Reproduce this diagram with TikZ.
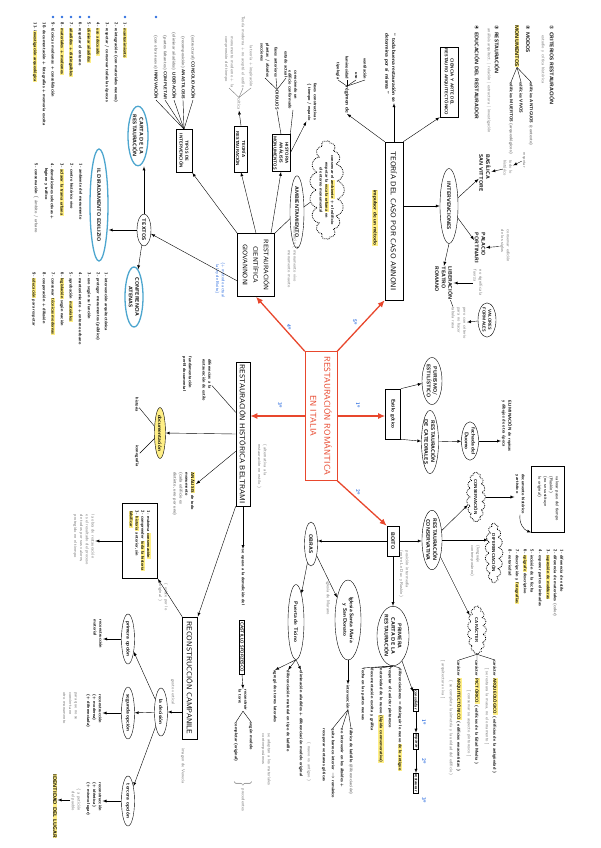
\documentclass[tikz,border=0pt]{standalone}
\usepackage{fontspec}
\newfontfamily\simbolos{DejaVu Sans}
\usepackage{xcolor}
\usepackage{tikz}
\usetikzlibrary{shapes,positioning,calc}
\usetikzlibrary{arrows.meta}
\tikzset{>=latex}
\definecolor{rojo}{HTML}{E8472D}
\definecolor{azul}{HTML}{2F6FE0}
\definecolor{celeste}{HTML}{4DA6CF}
\definecolor{amarillo}{HTML}{FFEF86}
\definecolor{gristxt}{HTML}{7A7A7A}
\newcommand{\res}[1]{{\setlength{\fboxsep}{0.4pt}\colorbox{amarillo}{#1}}}
\newcommand{\fchica}{\sffamily\fontsize{4.3}{5.8}\selectfont}
\newcommand{\fnegra}{\sffamily\bfseries\fontsize{4.3}{5.8}\selectfont}
\newcommand{\fmedia}{\sffamily\bfseries\fontsize{5.2}{6.6}\selectfont}
\newcommand{\fgrande}{\sffamily\fontsize{7.2}{10}\selectfont\addfontfeature{LetterSpace=6}}
\tikzstyle{caja} = [draw, semithick, rotate=-90, align=center, inner sep=1.5pt, font=\fgrande]
\tikzstyle{ovalo} = [draw, ellipse, rotate=-90, align=center, inner sep=0pt, font=\fmedia]
\tikzstyle{ovaloazul} = [ovalo, draw=celeste, line width=1.3pt]
\tikzstyle{nube} = [draw, cloud, cloud puffs=17, cloud ignores aspect, densely dotted, thick, rotate=-90, align=center, inner sep=0pt, font=\fnegra]
\tikzstyle{texto} = [rotate=-90, align=left, inner sep=0.5pt, font=\fnegra]
\tikzstyle{gris} = [texto, text=gristxt, font=\fchica]
\tikzstyle{lista} = [texto, anchor=west]
\tikzstyle{azulito} = [rotate=-90, text=azul, inner sep=0.5pt, font=\fmedia]
\tikzstyle{bala} = [circle, fill=azul, inner sep=0pt, minimum size=2.6pt]
\tikzstyle{flecha} = [->, thin]
\tikzstyle{roja} = [-{Latex[length=7pt,width=6pt]}, line width=1.3pt, rojo]

\begin{document}
\begin{tikzpicture}[x=1pt,y=-1pt]
\useasboundingbox[fill=white] (0,0) rectangle (600,848);

% nodo central y cajas principales
\node[rotate=-90, draw=rojo, text=rojo, minimum width=129pt, minimum height=32pt, align=center, font=\sffamily\fontsize{8.5}{14}\selectfont\addfontfeature{LetterSpace=8}] (rri) at (321,416) {RESTAURACIÓN ROMÁNTICA\\ EN ITALIA};
\node[caja, minimum width=63pt, minimum height=37pt, font=\sffamily\fontsize{6.5}{10.5}\selectfont\addfontfeature{LetterSpace=6}] (cien) at (256,265) {RESTAURACIÓN\\ CIENTÍFICA\\ GIOVANNONI};
\node[caja, minimum width=158pt, minimum height=18pt] (teo) at (394,221) {TEORÍA DEL CASO POR CASO ANNONI};
\node[caja, minimum width=144pt, minimum height=14pt] (bel) at (243,434) {RESTAURACIÓN HISTÓRICA BELTRAMI};
\node[caja, minimum width=50pt, minimum height=15pt, font=\fmedia] (est) at (393,414) {Estilo gótico};
\node[caja, minimum width=30pt, minimum height=12pt, font=\fmedia] (boi) at (393,541) {BOITO};

% flechas rojas
\draw[roja] (rri.south west) -- (cien.east);
\draw[roja] (rri.north west) -- (teo.south east);
\draw[roja] (rri.south) -- (rri.south -| bel.north);
\draw[roja] (rri.north) -- (rri.north -| est.south);
\draw[roja] (rri.north east) -- (boi.south west);
\node[azulito] (o4) at (289,327) {4º};
\node[azulito] (o5) at (355,322) {5º};
\node[azulito] (o3) at (280,405) {3º};
\node[azulito] (o1) at (358,405) {1º};
\node[azulito] (o2) at (358,492) {2º};

% annoni
\node[texto, font=\fmedia] (cita) at (390,68) {“ toda buena restauración se\\ determina por sí misma ”};
\draw[flecha] (teo.west) -- (teo.west |- cita.east);
\node[texto, fill=amarillo, font=\fmedia] (imp) at (375,218) {impulsor de un método};
\node[texto, font=\fmedia] (reg) at (347,100) {régimen de};
\draw[flecha] (teo.south west) -- (reg.east);
\node[texto, anchor=east] (r1) at (338,80) {tipología};
\node[texto, anchor=east] (r2) at (347,80) {luminosidad};
\node[texto, anchor=east] (r3) at (356,80) {uso};
\node[texto, anchor=east] (r4) at (365,80) {ventilación};
\foreach \n in {r1,r2,r3,r4} \draw (reg.west) -- (\n.east);
\node[caja, font=\fnegra, minimum width=70pt, minimum height=18pt] (lib) at (449,82) {CIENCIA Y ARTE DEL\\ RESTAURO ARQUITECTÓNICO};
\draw[flecha] (teo.north west) -- (lib.south east);

% lista del libro
\node[lista, font=\fmedia] (l1) at (552,25) {{\simbolos ①} CRITERIOS RESTAURACIÓN};
\node[gris, anchor=west] (l1b) at (543,35) {estudio y crítica histórica};
\node[lista, font=\fmedia] (l2) at (528,25) {{\simbolos ②} MODOS};
\node[lista, fill=amarillo, font=\fmedia] (l2b) at (517,25) {MONUMENTOS};
\node[lista] (m1) at (531,82) {edificios ANTIGUOS \textcolor{gristxt}{(contexto)}};
\node[lista] (m2) at (521,82) {edificios VIVOS};
\node[lista] (m3) at (511,82) {edificios MUERTOS \textcolor{gristxt}{(arqueológicos)}};
\foreach \n in {m1,m2,m3} \draw (l2b.east) -- (\n.west);
\node[lista, font=\fmedia] (l3) at (497,25) {{\simbolos ③} RESTAURACIÓN};
\node[gris, anchor=west] (l3b) at (489,28) {análisis arquitect. | relación | estructura | investigación};
\node[lista, font=\fmedia] (l4) at (477,25) {{\simbolos ④} EDUCACIÓN DEL RESTAURADOR};

% intervenciones
\node[ovalo, minimum width=75pt, minimum height=18pt] (int) at (449,206) {INTERVENCIONES};
\draw[flecha] (teo.north |- int) -- (int.south);
\node[texto, font=\fmedia] (bas) at (485,173) {BASÍLICA\\ SAN VITTORE};
\draw[flecha] (int) -- (bas);
\node[gris] (bas1) at (524,160) {respetar};
\node[gris] (bas2) at (508,168) {todo lo\\ histórico};
\draw[flecha] (bas1) -- (bas2);
\draw[flecha] (bas2) -- (bas);
\node[texto, font=\fmedia] (pal) at (480,248) {PALACIO\\ PORTINARI};
\draw[flecha] (int) -- (pal);
\node[gris] (pal1) at (505,246) {conservar edición\\ de los siglos};
\draw[flecha] (pal1) -- (pal);
\node[texto, font=\fmedia] (lbr) at (444,283) {LIBERACIÓN\\ TEATRO\\ ROMANO};
\draw[flecha] (int.east) -- (lbr.west);
\node[gris] (lbr1) at (478,283) {no significa la\\ fuerza};
\draw[flecha] (lbr1) -- (lbr);
\node[gris] (lbr2) at (459,323) {pero con criterio\\ para no hacer\\ tabula rasa};
\draw (lbr) -- (lbr2);
\node[ovalo, font=\fnegra, minimum width=32pt, minimum height=18pt] (val) at (487,320) {VALORES\\ FORMALES};
\draw[flecha] (val) -- (lbr2);

% estilo
\node[ovalo, minimum width=45pt, minimum height=20pt] (pur) at (432,381) {PURISMO/\\ ESTILÍSTICO};
\draw[flecha] (est.north west) -- (pur);
\node[ovalo, minimum width=43pt, minimum height=17pt] (cat) at (430,442) {RESTAURACIÓN\\ DE CATEDRALES};
\draw[flecha] (est.north east) -- (cat);
\node[ovalo, minimum width=38pt, minimum height=17pt] (duo) at (470,441) {fachada del\\ Duomo};
\draw[flecha] (cat) -- (duo);
\node[texto, anchor=west] (eli) at (507,400) {ELIMINACIÓN de repisas\\ y dibujos de otra época};
\draw[flecha] (duo) -- (duo -| eli.south);

% boito
\node[ovalo, minimum width=44pt, minimum height=13pt] (obr) at (311,544) {OBRAS};
\draw[flecha] (boi.south) -- (boi.south -| obr.north);
\node[ovalo, minimum width=75pt, minimum height=16pt] (pue) at (296,622) {Puerta de Ticino};
\node[ovalo, minimum width=80pt, minimum height=26pt] (igl) at (348,620) {Iglesia Santa María\\ y San Donato};
\draw[flecha] (obr) -- (pue);
\draw[flecha] (obr) -- (igl);
\node[gris] (mur) at (328,598) {iglesia de Murano};
\node[lista] (p1) at (301,670) {eliminación añadidos + diferenciación modelo original};
\node[lista] (p2) at (288,670) {diferenciación material en tipo de ladrillo};
\node[lista] (p3) at (275,670) {agregó dos torres laterales};
\foreach \n in {p1,p2,p3} \draw[flecha] (pue.east) -- (\n.west);
\node[gris, anchor=west] (p1b) at (309,742) {( nuevo vs antiguo )};
\node[gris, anchor=west] (p3b) at (266,733) {se adaptan a los materiales\\ contemporáneos};
\node[texto] (itv) at (348,697) {intervención};
\draw[flecha] (igl.east) -- (itv.west);
\node[lista] (i1) at (351,728) {fábrica de ladrillo \textcolor{gristxt}{(diferenciación)}};
\node[lista] (i2) at (342,728) {no intervenir en los ábsides +};
\node[lista] (i3) at (333,728) {quita barroco interior $\rightarrow$ románico};
\node[lista] (i4) at (324,728) {recuperar ventanas góticas};
\foreach \n in {i1,i2,i3} \draw (itv.east) -- (\n.west);

% primera carta
\node[ovalo, minimum width=46pt, minimum height=32pt] (pri) at (393,636) {PRIMERA\\ CARTA DE LA\\ RESTAURACIÓN};
\draw[flecha] (boi.east) -- (boi.east |- pri.west);
\node[lista] (b1) at (400,668) {diferenciaciones = distinguir lo nuevo \res{de lo antiguo}};
\node[lista] (b2) at (390,668) {respetar el carácter pintoresco};
\node[lista] (b3) at (381,668) {notoriedad de lo nuevo \res{(lápida conmemorativa)}};
\node[lista] (b4) at (372,668) {documentación escrita y gráfica};
\node[lista] (b5) at (363,668) {fecha en las partes nuevas};
\foreach \n in {b1,b2,b3,b4,b5} \draw (pri.east) -- (\n.west);
\node[caja, font=\fnegra, inner sep=1.2pt] (s1) at (416,700) {consolidar};
\node[caja, font=\fnegra, inner sep=1.2pt] (s2) at (416,741) {reparar};
\node[caja, font=\fnegra, inner sep=1.2pt] (s3) at (416,783) {restaurar};
\draw[flecha] (pri) -- (s1);
\draw[flecha] (s1) -- (s2);
\draw[flecha] (s2) -- (s3);
\node[azulito] (s1n) at (424,722) {1º};
\node[azulito] (s2n) at (424,761) {2º};
\node[azulito] (s3n) at (424,800) {3º};

% restauracion conservativa
\node[ovalo, minimum width=57pt, minimum height=20pt] (con) at (432,540) {RESTAURACIÓN\\ CONSERVATIVA};
\draw[flecha] (boi.north) -- (boi.north -| con.south);
\node[gris] (pos) at (404,574) {posición intermedia\\ (entre Le Duc y Ruskin)};
\node[nube, minimum width=46pt, minimum height=19pt] (cons) at (476,497) {CONSERVACIÓN};
\draw[flecha] (con) -- (cons);
\node[texto] (dha) at (520,494) {documento histórico\\ y artístico};
\draw[flecha] (cons) -- (cons -| dha.south);
\node[caja, font=\fchica, align=left, minimum width=66pt, minimum height=33pt] (rus) at (548,499) {valorar paso del tiempo\\ (Ruskin)\\ (no se sustituye\\ lo original)};
\draw[flecha] (dha.east) to[bend right=40] (rus.south east);
\node[nube, minimum width=60pt, minimum height=18pt] (dif) at (494,553) {DIFERENCIACIÓN};
\draw[flecha] (con.north) -- (con.north -| dif.south);
\node[gris] (len) at (475,561) {(lenguaje\\ contemporáneo)};
\node[nube, minimum width=48pt, minimum height=19pt] (car) at (477,630) {CARÁCTER};
\draw[flecha] (con) -- (car);
\node[lista] (q1) at (562,549) {1- diferencia de estilo};
\node[lista] (q2) at (555,549) {2- diferencia de materiales \textcolor{gristxt}{(color)}};
\node[lista] (q3) at (548,549) {3- \res{supresión de molduras}};
\node[lista] (q4) at (540,549) {4- exponer partes eliminadas};
\node[lista] (q5) at (532,549) {5- incisión de la fecha};
\node[lista] (q6) at (525,549) {6- \res{epígrafe} descriptivo};
\node[lista] (q7) at (517,549) {7- descripción y \res{fotografías}};
\node[lista] (q8) at (510,549) {8- notoriedad};
\node[lista] (k1) at (495,660) {carácter \res{ARQUEOLÓGICO} ( edificios de la antigüedad )};
\node[gris, anchor=west] (k1b) at (487,668) {[ se restaura la masa, no el ornamento ]};
\node[lista] (k2) at (477,660) {carácter \res{PICTÓRICO} ( edificios de la Edad Media )};
\node[gris, anchor=west] (k2b) at (469,690) {[ conservar su aspecto pintoresco ]};
\node[lista] (k3) at (459,660) {carácter \res{ARQUITECTÓNICO} ( edificios renacentistas )};
\node[gris, anchor=west] (k3b) at (451,680) {( se completa la simetría y la unidad del edificio )};
\node[gris, anchor=west] (k3c) at (443,660) {[ arquitectura viva ]};
\foreach \n in {k1,k2,k3} \draw (car.east) -- (\n.west);

% beltrami
\node[gris] (belg) at (262,466) {( alternativa a la\\ restauración en estilo )};
\node[texto] (dfe) at (207,380) {diferencias a la\\ restauración de estilo};
\draw ($(bel.south west)!0.35!(bel.south east)$) -- (dfe);
\node[texto] (fun) at (187,374) {fundamentación\\ perfil documental};
\node[ovalo, fill=amarillo, minimum width=42pt, minimum height=11pt] (doc) at (160,433) {documentación};
\draw[flecha] (bel.south) -- (doc.north);
\node[texto] (his) at (137,405) {historia};
\node[texto] (ico) at (137,456) {iconografía};
\draw (doc) -- (his);
\draw (doc) -- (ico);
\node[texto] (ana) at (184,494) {\res{ANÁLISIS} de todo\\ monumento\\ \textcolor{gristxt}{(cada edificio es}\\ \textcolor{gristxt}{distinto, uno por uno)}};
\draw[flecha] ($(bel.south west)!0.62!(bel.south east)$) -- (ana);
\node[caja, font=\fnegra, align=left, minimum width=75pt, minimum height=35pt] (btr) at (140,541) {1- máxima \res{conservación}\\ 2- comprender \res{toda la historia}\\ 3- \res{historia} anterior, sin\\ \res{falsificar}};
\node[gris] (btrg) at (84,540) {la obra de restauración\\ es el resultado del proceso\\ de todos por sus valores,\\ protegido en el tiempo};
\draw[flecha] (btr.south) -- (btr.south -| btrg.north);
\node[gris] (btro) at (163,597) {( existe por lo\\ original )};
\node[texto, anchor=west] (opu) at (243,549) {se opuso a la demolición del};
\draw[flecha] (bel.east) -- (opu.west);
\node[caja, font=\fnegra, inner sep=1.2pt, minimum width=54pt] (cas) at (242,647) {CASTILLO SFORZESCO};
\node[texto] (tor) at (243,700) {reconstruir\\ la torre};
\draw[flecha] (cas.east) -- (tor.west);
\node[texto, anchor=west] (tor1) at (251,722) {según modelo};
\node[texto, anchor=west] (tor2) at (236,722) {completar (original)};
\foreach \n in {tor1,tor2} \draw (tor.east) -- (\n.west);
\node[gris, anchor=west] (tor3) at (243,780) {$\big\}$ precedentes};

% campanile
\node[caja, minimum width=122pt, minimum height=15pt] (rec) at (190,678) {RECONSTRUCCIÓN CAMPANILE};
\draw[flecha] (bel.south east) -- (rec.north west);
\draw[flecha] (rec.south west) -- (btr.north east);
\node[gris] (rec1) at (173,692) {gesto vertical};
\node[gris] (rec2) at (183,766) {imagen de Venecia};
\node[ovalo, minimum width=48pt, minimum height=13pt] (dec) at (161,712) {la decisión};
\draw[flecha] (rec.south |- dec) -- (dec.north);
\node[ovalo, minimum width=50pt, minimum height=13pt] (op1) at (128,639) {primera opción};
\node[ovalo, minimum width=50pt, minimum height=13pt] (op2) at (128,713) {segunda opción};
\node[ovalo, minimum width=50pt, minimum height=13pt] (op3) at (128,801) {tercera opción};
\foreach \n in {op1,op2,op3} \draw[flecha] (dec) -- (\n);
\node[texto] (t1) at (98,634) {reconstrucción\\ material};
\draw[flecha] (op1.south) -- (op1.south -| t1.north);
\node[texto] (t2) at (94,711) {reconstrucción\\ (+ moderna)\\ (+ diferenciada)};
\draw[flecha] (op2.south) -- (op2.south -| t2.north);
\node[gris] (t2b) at (70,708) {para que no se\\ convierta en\\ otro monumento};
\node[texto] (t3) at (94,799) {reconstrucción\\ (+ idéntica)\\ (+ mismo lugar)};
\draw[flecha] (op3.south) -- (op3.south -| t3.north);
\node[gris] (t3b) at (76,800) {\{ a petición\\ \ \ del pueblo};
\node[texto, fill=amarillo, font=\fmedia] (ide) at (55,806) {IDENTIDAD DEL LUGAR};
\draw[flecha] (t3b.south) -- (t3b.south -| ide.north);

% giovannoni
\node[azulito, align=left, font=\fchica] (bn) at (220,280) {\{+ método actual\\ \ la ley de Boito\}};
\node[caja, font=\fnegra, minimum width=46pt, minimum height=13pt] (tre) at (241,149) {TEORÍA\\ RESTAURACIÓN};
\draw[flecha] (cien.west) -- (tre.east);
\node[gris] (cri) at (239,104) {crítica};
\draw[flecha] (tre.west) -- (cri.east);
\node[gris, anchor=east] (cr1) at (251,88) {la teoría + inspiración};
\node[gris, anchor=east] (cr2) at (243,88) {Teoría moderna + no aceptó el estilo};
\node[gris, anchor=east] (cr3) at (229,88) {monumento moderno + la\\ comprensión del tiempo};
\foreach \n in {cr1,cr2,cr3} \draw[gristxt] (cri.west) -- (\n.east);
\node[caja, font=\fnegra, minimum width=37pt, minimum height=18pt] (hia) at (281,153) {HISTORIA\\ ANÁLISIS\\ MONUMENTOS};
\draw[flecha] ($(cien.west)!0.8!(cien.north west)$) -- (hia.east);
\node[texto] (dib) at (277,100) {DIBUJOS};
\draw (hia.west) -- (dib.east);
\node[texto, anchor=east] (d1) at (286,78) {estado actual};
\node[texto, anchor=east] (d2) at (276,78) {fases anteriores};
\node[texto, anchor=east] (d3) at (265,78) {plantas / alzados\\ secciones};
\foreach \n in {d1,d2,d3} \draw (dib.west) -- (\n.east);
\node[texto] (con1) at (293,90) {conociendo un\\ edificio conformado};
\draw (hia.north west) -- (con1.east);
\node[texto] (fas) at (312,102) {fases constructivas\\ \{ tiempo / espacio};
\draw[flecha] (hia.north) -- (fas.south east);
\node[ovalo, minimum width=51pt, minimum height=14pt] (amb) at (297,212) {AMBIENTAMIENTO};
\draw (cien.north west) -- (amb);
\node[nube, minimum width=94pt, minimum height=30pt] (nub) at (327,190) {conservar el \res{ambiente} + el edificio\\ respetar la \res{escala urbana} en\\ el entorno monumental};
\draw (amb) -- (nub);
\node[gris] (vivo) at (292,257) {diferencia $\langle$ monumento vivo\\ \phantom{diferencia $\langle$} monumento muerto};
\draw (amb.east) -- (vivo);

% textos
\node[ovalo, minimum width=32pt, minimum height=14pt] (tex) at (144,230) {TEXTOS};
\draw[flecha] ($(cien.south)!0.5!(cien.south east)$) -- (tex);
\node[ovaloazul, minimum width=52pt, minimum height=20pt] (cta) at (138,136) {CARTA DE LA\\ RESTAURACIÓN};
\node[ovaloazul, minimum width=112pt, minimum height=18pt] (dir) at (99,205) {IL DIRADAMENTO EDILIZIO};
\node[ovaloazul, minimum width=60pt, minimum height=18pt] (ate) at (134,297) {CONFERENCIA\\ ATENAS};
\draw[flecha] (tex.west) -- (tex.west |- cta.east);
\draw[flecha] (tex.south) -- (tex.south -| dir.north);
\draw[flecha] (tex) -- (ate);
\node[caja, font=\fnegra, minimum width=43pt, minimum height=16pt] (tip) at (184,151) {TIPOS DE\\ INTERVENCIÓN};
\draw[flecha] (cien.south west) -- (tip.north east);
\node[texto, anchor=east] (ti1) at (193,100) {\textcolor{gristxt}{(estructural)} CONSOLIDACIÓN};
\node[texto, anchor=east] (ti2) at (183,100) {\textcolor{gristxt}{(recomposición)} ANASTILOSIS};
\node[texto, anchor=east] (ti3) at (174,100) {\textcolor{gristxt}{(eliminar añadidos)} LIBERACIÓN};
\node[texto, anchor=east] (ti4) at (165,100) {\textcolor{gristxt}{(partes faltantes)} COMPLETAR};
\node[texto, anchor=east] (ti5) at (156,100) {\textcolor{gristxt}{(con obra nueva)} INNOVACIÓN};
\foreach \n in {ti1,ti2,ti3,ti4,ti5} \draw (tip.west) -- (\n.east);
\node[bala] (bt5) at (156,17) {};

% carta del restauro
\node[lista] (ca1) at (125,22) {1- \res{mantenimiento}};
\node[lista] (ca2) at (116,22) {2- reintegración (con materiales nuevos)};
\node[lista] (ca3) at (107,22) {3- respetar / conservar todas las épocas};
\node[lista] (ca4) at (98,22) {4- \res{uso adecuado}};
\node[lista] (ca5) at (89,22) {5- \res{eliminar añadidos}};
\node[lista] (ca6) at (80,22) {6- respetar el entorno};
\node[lista] (ca7) at (71,22) {7- \res{añadidos + distinguibles}};
\node[lista] (ca8) at (62,22) {8- \res{materiales + modernos}};
\node[lista] (ca9) at (53,22) {9- técnicas modernas + consolidación};
\node[lista] (ca10) at (44,22) {10- documentación + fotografías + memoria escrita};
\node[lista] (ca11) at (35,22) {11- \res{investigación arqueológica}};
\foreach \bx in {125,89,80,71,62,53} \node[bala] (b\bx) at (\bx,17) {};

% diradamento
\node[lista] (di1) at (81,163) {1- ambiente del monumento};
\node[lista] (di2) at (72,163) {2- centro histórico vivo};
\node[lista] (di3) at (62,163) {3- \res{aclarar la trama urbana}};
\node[lista] (di4) at (49,163) {4- demoliciones selectivas +\\ \quad higiene y tráfico};
\node[lista] (di5) at (36,163) {5- conservación $\langle$ \textcolor{gristxt}{ámbito / urbano}};

% conferencia de atenas
\node[lista] (at1) at (106,272) {1- intervención arquitectónica};
\node[lista] (at2) at (98,272) {2- proteger monumentos (público)};
\node[lista] (at3) at (89,272) {3- uso según su función};
\node[lista] (at4) at (80,272) {4- mantenimiento + entorno urbano};
\node[lista] (at5) at (71,272) {5- aprobación \res{materiales}};
\node[lista] (at6) at (62,272) {6- \res{legislación} según nación};
\node[lista] (at7) at (53,272) {7- conservar \res{técnicas modernas}};
\node[lista] (at8) at (44,272) {8- cooperación + difusión};
\node[lista] (at9) at (34,272) {9- \res{educación} para respetar};

\end{tikzpicture}
\end{document}
